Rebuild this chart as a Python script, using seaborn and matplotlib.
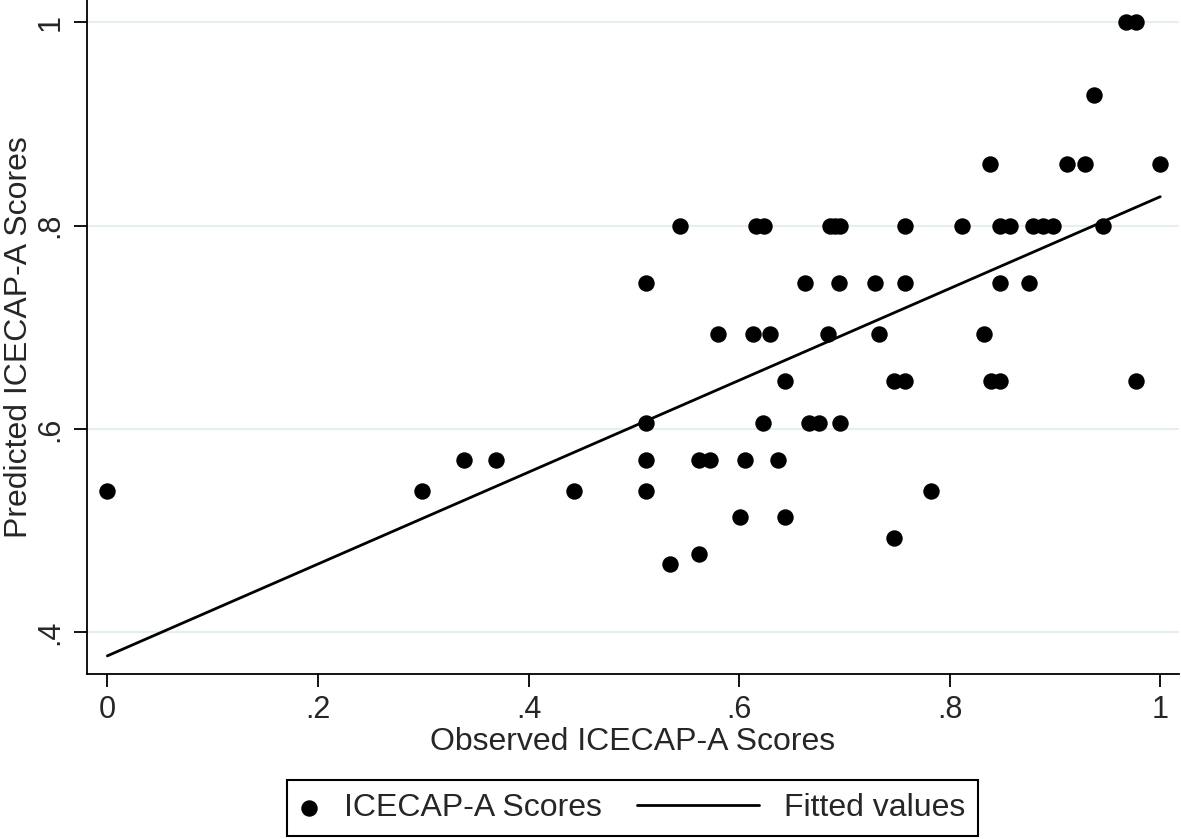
#%%
import numpy as np
import pandas as pd
import matplotlib.pyplot as plt
import seaborn as sns
from matplotlib.legend_handler import HandlerLine2D

#%%
# values
observed = [0.000, 0.299, 0.339, 0.369, 0.443, 0.512, 0.512, 0.512, 0.512,
            0.534, 0.544, 0.562, 0.562, 0.572, 0.580, 0.601, 0.606, 0.613,
            0.616, 0.623, 0.624, 0.629, 0.637, 0.644, 0.644, 0.663, 0.666,
            0.676, 0.684, 0.686, 0.691, 0.696, 0.695, 0.696, 0.729, 0.733,
            0.747, 0.747, 0.758, 0.758, 0.758, 0.782, 0.812, 0.833, 0.838,
            0.839, 0.848, 0.848, 0.848, 0.857, 0.875, 0.879, 0.889, 0.898,
            0.911, 0.929, 0.937, 0.946, 0.967, 0.977, 0.977, 1.000]
predicted = [0.539, 0.539, 0.570, 0.570, 0.539, 0.744, 0.606, 0.570, 0.539,
             0.467, 0.800, 0.477, 0.570, 0.570, 0.693, 0.514, 0.570, 0.693,
             0.800, 0.606, 0.800, 0.693, 0.570, 0.647, 0.514, 0.744, 0.606,
             0.606, 0.693, 0.800, 0.800, 0.800, 0.744, 0.606, 0.744, 0.693,
             0.647, 0.493, 0.647, 0.744, 0.800, 0.539, 0.800, 0.693, 0.861,
             0.647, 0.647, 0.744, 0.800, 0.800, 0.744, 0.800, 0.800, 0.800,
             0.861, 0.861, 0.928, 0.800, 1.000, 1.000, 0.647, 0.861]

fit_x = [0.0, 1.0]
fit_y = [0.377, 0.8285]

x_ticks = [0, 0.2, 0.4, 0.6, 0.8, 1]
x_tick_labels = ['0', '.2', '.4', '.6', '.8', '1']
y_ticks = [0.4, 0.6, 0.8, 1]
y_tick_labels = ['.4', '.6', '.8', '1']

df = pd.DataFrame({'observed': observed, 'predicted': predicted})
fit = pd.DataFrame({'x': fit_x, 'y': fit_y})

#%%
sns.set_style('white')
plt.rcParams['font.family'] = ['Liberation Sans', 'DejaVu Sans']

fig = plt.figure(figsize=(11.81, 8.39), dpi=100)
ax = fig.add_axes([0.0737, 0.1967, 0.9246, 0.8033])

sns.scatterplot(data=df, x='observed', y='predicted', ax=ax, color='black',
                s=140, linewidth=0, label='ICECAP-A Scores', zorder=3)
sns.lineplot(data=fit, x='x', y='y', ax=ax, color='black', linewidth=2,
             label='Fitted values', zorder=2)
if ax.get_legend() is not None:
    ax.get_legend().remove()

ax.set_xlim(-0.0193, 1.0178)
ax.set_ylim(0.3592, 1.0219)
ax.set_xticks(x_ticks)
ax.set_xticklabels(x_tick_labels)
ax.set_yticks(y_ticks)
ax.set_yticklabels(y_tick_labels, rotation=90, va='center')

ax.yaxis.grid(True, color='#e6eef0', linewidth=1.5)
ax.xaxis.grid(False)
ax.set_axisbelow(True)

for side in ['top', 'right']:
    ax.spines[side].set_visible(False)
for side in ['left', 'bottom']:
    ax.spines[side].set_color('black')
    ax.spines[side].set_linewidth(1.3)

ax.tick_params(axis='both', which='major', bottom=True, left=True,
               direction='out', length=9.5, width=1.3, color='black',
               labelsize=22, pad=6)

ax.set_xlabel('Observed ICECAP-A Scores', fontsize=23, labelpad=1)
ax.set_ylabel('Predicted ICECAP-A Scores', fontsize=23, labelpad=1)

handles, labels = ax.get_legend_handles_labels()
leg = fig.legend(handles, labels, loc='lower center',
                 bbox_to_anchor=(632.5 / 1181, 3 / 839), ncol=2, fontsize=23,
                 handlelength=0.6, handletextpad=0.8, columnspacing=4.3,
                 borderpad=0.4, borderaxespad=0, frameon=True, fancybox=False,
                 edgecolor='black', framealpha=1,
                 handler_map={handles[1]: HandlerLine2D(xpad=-3.2)})
leg.get_frame().set_linewidth(1.5)

fig.savefig('out.png', dpi=100)
